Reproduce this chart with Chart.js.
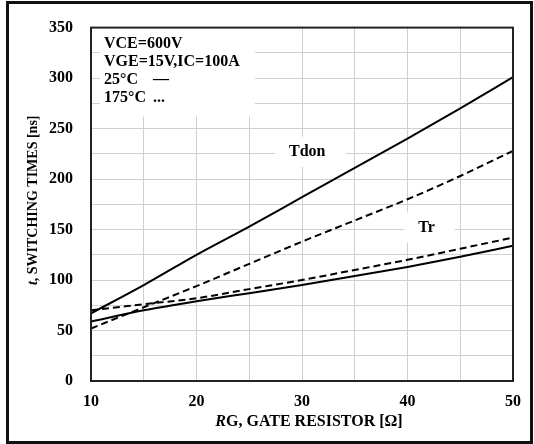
<!DOCTYPE html>
<html>
<head>
<meta charset="utf-8">
<script src="https://cdn.jsdelivr.net/npm/chart.js@4"></script>
<style>
	body { margin: 0; background: #fff; }
	#wrap { position: relative; width: 534px; height: 444px; }
	#frame { position: absolute; left: 6px; top: 1px; width: 527px; height: 443px; border: 3px solid #111; box-sizing: border-box; pointer-events: none; }
</style>
</head>
<body>
<div id="wrap">
	<canvas id="chart" width="534" height="444"></canvas>
	<div id="frame"></div>
</div>
<script>
// gate resistor values [ohm]
const rg = [10, 15, 20, 25, 30, 35, 40, 45, 50];
// switching times [ns]
const tdon25 = [67, 95, 125, 153, 182, 211, 240, 270, 301];
const tdon175 = [52, 73, 94, 116, 138, 159, 180, 203, 228];
const tr25 = [59, 70, 79, 87, 95, 104, 113, 123, 134];
const tr175 = [70, 76, 82, 91, 100, 110, 120, 131, 142];

const noteLines = ['VCE=600V', 'VGE=15V,IC=100A', '25°C', '175°C'];
const noteMarks = ['', '', '—', '...'];
const curveLabels = [
	{ text: 'Tdon', x: 30.5, y: 227 },
	{ text: 'Tr', x: 41.8, y: 152 }
];

const FONT = '"Liberation Serif", "Times New Roman", serif';

function series(values, dashed) {
	return {
		data: rg.map((x, i) => ({ x: x, y: values[i] })),
		borderColor: '#000',
		borderWidth: 2,
		borderDash: dashed ? [7, 4] : [],
		pointRadius: 0,
		fill: false,
		cubicInterpolationMode: 'monotone'
	};
}

const decorations = {
	id: 'decorations',
	beforeDatasetsDraw(chart) {
		const ctx = chart.ctx;
		const xs = chart.scales.x;
		const ys = chart.scales.y;
		ctx.save();
		ctx.fillStyle = '#fff';
		// white box behind the conditions note
		ctx.fillRect(100, chart.chartArea.top + 1, 155, 88);
		ctx.font = 'bold 16px ' + FONT;
		ctx.textBaseline = 'middle';
		ctx.textAlign = 'center';
		curveLabels.forEach(l => {
			const px = xs.getPixelForValue(l.x);
			const py = ys.getPixelForValue(l.y);
			const w = ctx.measureText(l.text).width + 34;
			ctx.fillStyle = '#fff';
			ctx.fillRect(px - w / 2 + 3, py - 15, w, 30);
			ctx.fillStyle = '#000';
			ctx.fillText(l.text, px, py);
		});
		ctx.textAlign = 'left';
		ctx.textBaseline = 'alphabetic';
		ctx.fillStyle = '#000';
		noteLines.forEach((t, i) => {
			const y = 48 + i * 18;
			ctx.fillText(t, 104, y);
			if (noteMarks[i]) ctx.fillText(noteMarks[i], 153, y);
		});
		ctx.restore();
	},
	afterDraw(chart) {
		const ctx = chart.ctx;
		const a = chart.chartArea;
		ctx.save();
		ctx.strokeStyle = '#222';
		ctx.lineWidth = 2;
		ctx.strokeRect(a.left, a.top, a.right - a.left, a.bottom - a.top);

		// y axis title
		ctx.fillStyle = '#000';
		ctx.textBaseline = 'middle';
		ctx.translate(33, (a.top + a.bottom) / 2 - 4);
		ctx.rotate(-Math.PI / 2);
		let p1 = 't', p2 = ', SWITCHING TIMES [ns]';
		ctx.font = 'italic bold 14px ' + FONT;
		let w1 = ctx.measureText(p1).width;
		ctx.font = 'bold 14px ' + FONT;
		let w2 = ctx.measureText(p2).width;
		let x0 = -(w1 + w2) / 2;
		ctx.font = 'italic bold 14px ' + FONT;
		ctx.fillText(p1, x0, 0);
		ctx.font = 'bold 14px ' + FONT;
		ctx.fillText(p2, x0 + w1, 0);
		ctx.setTransform(1, 0, 0, 1, 0, 0);

		// x axis title
		p1 = 'R'; p2 = 'G, GATE RESISTOR [Ω]';
		ctx.font = 'italic bold 16px ' + FONT;
		w1 = ctx.measureText(p1).width;
		ctx.font = 'bold 16px ' + FONT;
		w2 = ctx.measureText(p2).width;
		x0 = (a.left + a.right) / 2 + 7 - (w1 + w2) / 2;
		ctx.font = 'italic bold 16px ' + FONT;
		ctx.fillText(p1, x0, 422);
		ctx.font = 'bold 16px ' + FONT;
		ctx.fillText(p2, x0 + w1, 422);
		ctx.restore();
	}
};

new Chart(document.getElementById('chart'), {
	type: 'line',
	data: {
		datasets: [
			series(tdon25, false),
			series(tdon175, true),
			series(tr25, false),
			series(tr175, true)
		]
	},
	options: {
		responsive: false,
		animation: false,
		devicePixelRatio: 1,
		layout: { padding: { top: 27, right: 21, left: 0, bottom: 0 } },
		plugins: {
			legend: { display: false },
			tooltip: { enabled: false }
		},
		scales: {
			x: {
				type: 'linear',
				min: 10,
				max: 50,
				afterFit: s => { s.height = 63; },
				grid: { color: '#d0d0d0', drawTicks: false },
				border: { display: false },
				ticks: {
					stepSize: 5,
					autoSkip: false,
					maxRotation: 0,
					padding: 11,
					color: '#000',
					font: { family: FONT, size: 16, weight: 'bold' },
					callback: v => (v % 10 === 0 ? v : '')
				}
			},
			y: {
				min: 0,
				max: 350,
				afterFit: s => { s.width = 91; },
				grid: { color: '#d0d0d0', drawTicks: false },
				border: { display: false },
				ticks: {
					stepSize: 25,
					autoSkip: false,
					padding: 18,
					color: '#000',
					font: { family: FONT, size: 16, weight: 'bold' },
					callback: v => (v % 50 === 0 ? v : '')
				}
			}
		}
	},
	plugins: [decorations]
});
</script>
</body>
</html>
